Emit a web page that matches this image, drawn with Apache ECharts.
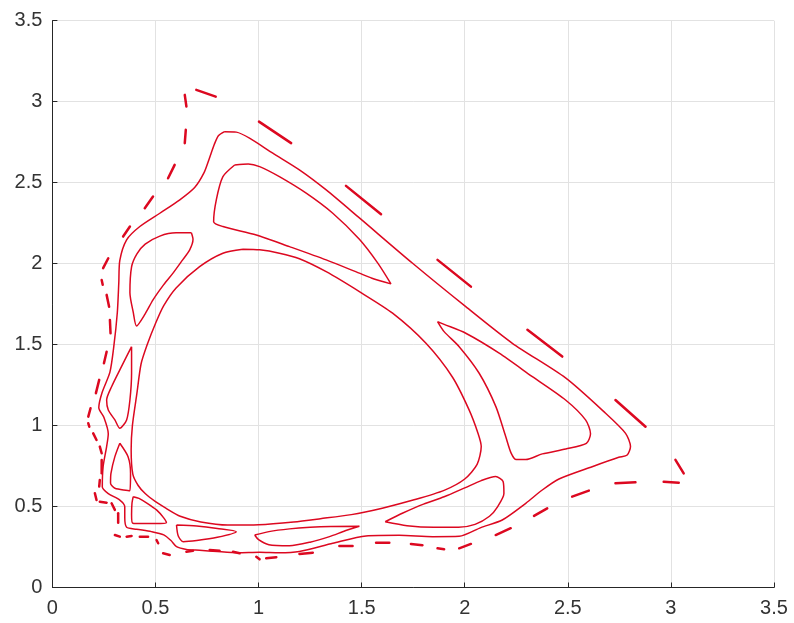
<!DOCTYPE html>
<html>
<head>
<meta charset="utf-8">
<script src="https://cdn.jsdelivr.net/npm/echarts@6/dist/echarts.min.js"></script>
<style>html,body{margin:0;padding:0;background:#fff}#c{width:794px;height:623px}</style>
</head>
<body>
<div id="c"></div>
<script>
// Axis range
const axisMin = 0, axisMax = 3.5, tickStep = 0.5;

// Closed level curves [x, y]
const outerCurve = [[0.835,2.815],[0.892,2.812],[0.956,2.775],[1.069,2.682],[1.198,2.579],[1.328,2.455],[1.489,2.282],[1.747,2.002],[2.005,1.734],[2.231,1.508],[2.489,1.294],[2.683,1.076],[2.780,0.952],[2.804,0.870],[2.788,0.818],[2.747,0.804],[2.618,0.746],[2.457,0.670],[2.376,0.602],[2.296,0.520],[2.182,0.417],[2.078,0.370],[1.973,0.316],[1.844,0.314],[1.682,0.322],[1.521,0.318],[1.360,0.273],[1.198,0.223],[1.100,0.215],[1.005,0.218],[0.900,0.215],[0.800,0.222],[0.714,0.230],[0.650,0.235],[0.602,0.252],[0.575,0.290],[0.540,0.325],[0.480,0.345],[0.408,0.360],[0.360,0.372],[0.351,0.430],[0.351,0.499],[0.327,0.540],[0.271,0.580],[0.242,0.620],[0.246,0.746],[0.263,0.870],[0.271,0.950],[0.250,1.050],[0.225,1.110],[0.240,1.200],[0.279,1.330],[0.298,1.490],[0.315,1.700],[0.322,1.880],[0.327,2.020],[0.360,2.147],[0.424,2.229],[0.521,2.311],[0.618,2.394],[0.690,2.470],[0.735,2.560],[0.760,2.645],[0.785,2.735],[0.805,2.790],[0.835,2.815]];

const innerCurve = [[0.924,2.089],[1.005,2.085],[1.101,2.064],[1.198,2.030],[1.328,1.950],[1.489,1.827],[1.650,1.694],[1.812,1.508],[1.940,1.300],[2.020,1.100],[2.065,0.950],[2.080,0.870],[2.060,0.760],[2.000,0.670],[1.900,0.600],[1.750,0.540],[1.600,0.490],[1.450,0.450],[1.300,0.425],[1.170,0.405],[1.000,0.388],[0.850,0.386],[0.720,0.405],[0.620,0.440],[0.550,0.490],[0.500,0.530],[0.450,0.580],[0.416,0.630],[0.390,0.700],[0.382,0.850],[0.388,1.000],[0.410,1.200],[0.430,1.380],[0.460,1.500],[0.500,1.630],[0.540,1.740],[0.600,1.850],[0.714,1.981],[0.827,2.064],[0.924,2.089]];

const island1 = [[0.884,2.609],[0.950,2.615],[1.005,2.599],[1.101,2.537],[1.231,2.435],[1.360,2.311],[1.489,2.150],[1.580,2.000],[1.642,1.875],[1.550,1.910],[1.489,1.941],[1.328,2.023],[1.150,2.105],[0.989,2.177],[0.827,2.229],[0.782,2.259],[0.795,2.394],[0.827,2.537],[0.884,2.609]];
const island2 = [[0.674,2.190],[0.600,2.190],[0.521,2.170],[0.450,2.120],[0.410,2.060],[0.384,1.980],[0.376,1.820],[0.392,1.700],[0.408,1.615],[0.450,1.690],[0.488,1.776],[0.540,1.870],[0.585,1.941],[0.630,2.020],[0.666,2.085],[0.682,2.150],[0.674,2.190]];
const island3 = [[0.384,1.487],[0.335,1.364],[0.287,1.240],[0.263,1.158],[0.271,1.096],[0.303,1.035],[0.327,0.983],[0.360,1.035],[0.376,1.158],[0.384,1.323],[0.384,1.487]];
const island4 = [[0.327,0.891],[0.303,0.808],[0.284,0.705],[0.282,0.644],[0.303,0.613],[0.376,0.598],[0.379,0.705],[0.367,0.808],[0.327,0.891]];
const island5 = [[0.392,0.561],[0.420,0.550],[0.460,0.520],[0.505,0.479],[0.540,0.430],[0.553,0.400],[0.500,0.395],[0.440,0.395],[0.390,0.397],[0.384,0.450],[0.386,0.520],[0.392,0.561]];
const island6 = [[0.602,0.386],[0.700,0.380],[0.800,0.365],[0.892,0.345],[0.800,0.310],[0.700,0.290],[0.634,0.283],[0.610,0.320],[0.602,0.386]];
const island7 = [[0.981,0.324],[1.050,0.345],[1.150,0.362],[1.250,0.372],[1.350,0.377],[1.489,0.378],[1.420,0.350],[1.344,0.314],[1.250,0.280],[1.150,0.258],[1.050,0.264],[1.000,0.295],[0.981,0.324]];
const island8 = [[1.614,0.406],[1.700,0.460],[1.800,0.515],[1.900,0.560],[2.000,0.615],[2.080,0.660],[2.150,0.685],[2.186,0.655],[2.190,0.580],[2.160,0.500],[2.120,0.440],[2.050,0.390],[1.970,0.372],[1.850,0.372],[1.720,0.382],[1.614,0.406]];
const island9 = [[1.868,1.642],[1.900,1.625],[2.005,1.570],[2.167,1.447],[2.328,1.302],[2.489,1.158],[2.586,1.035],[2.610,0.950],[2.590,0.890],[2.490,0.855],[2.376,0.825],[2.296,0.790],[2.250,0.790],[2.225,0.830],[2.199,0.931],[2.151,1.117],[2.070,1.323],[1.973,1.487],[1.900,1.580],[1.868,1.642]];

// Broken outermost orbit: short pieces [start, end]
const dashPieces = [
 [[0.698,3.073],[0.792,3.031]],[[1.002,2.877],[1.158,2.744]],[[1.424,2.480],[1.594,2.305]],
 [[1.868,2.023],[2.030,1.858]],[[2.304,1.591],[2.473,1.426]],[[2.731,1.158],[2.877,0.993]],
 [[3.022,0.788],[3.062,0.705]],[[2.965,0.653],[3.038,0.647]],[[2.731,0.644],[2.828,0.650]],
 [[2.521,0.561],[2.602,0.598]],[[2.336,0.442],[2.400,0.489]],[[2.150,0.324],[2.223,0.366]],
 [[1.973,0.242],[2.030,0.269]],[[1.868,0.242],[1.900,0.236]],[[1.739,0.269],[1.795,0.261]],
 [[1.570,0.277],[1.634,0.277]],[[1.392,0.256],[1.456,0.256]],[[1.198,0.207],[1.263,0.215]],
 [[1.037,0.180],[1.086,0.187]],[[0.989,0.190],[1.005,0.174]],[[0.876,0.221],[0.908,0.211]],
 [[0.763,0.232],[0.811,0.227]],[[0.650,0.221],[0.682,0.227]],[[0.537,0.211],[0.569,0.201]],
 [[0.505,0.293],[0.513,0.273]],[[0.424,0.314],[0.464,0.314]],[[0.360,0.314],[0.384,0.318]],
 [[0.303,0.324],[0.327,0.314]],[[0.319,0.458],[0.319,0.400]],[[0.287,0.520],[0.303,0.479]],
 [[0.230,0.530],[0.263,0.524]],[[0.206,0.582],[0.214,0.540]],[[0.230,0.664],[0.227,0.623]],
 [[0.239,0.788],[0.239,0.705]],[[0.230,0.870],[0.239,0.829]],[[0.198,0.952],[0.214,0.911]],
 [[0.174,1.014],[0.179,0.993]],[[0.185,1.107],[0.174,1.055]],[[0.227,1.282],[0.211,1.200]],
 [[0.263,1.456],[0.250,1.385]],[[0.279,1.652],[0.282,1.570]],[[0.263,1.807],[0.275,1.734]],
 [[0.239,1.899],[0.244,1.869]],[[0.271,2.033],[0.246,1.972]],[[0.376,2.229],[0.343,2.167]],
 [[0.488,2.414],[0.448,2.342]],[[0.593,2.610],[0.561,2.527]],[[0.647,2.826],[0.642,2.744]],
 [[0.642,3.042],[0.650,2.970]]
];

const RED = '#dc0820';
const closedCurves = [outerCurve, innerCurve, island1, island2, island3, island4, island5, island6, island7, island8, island9];

const series = [];
closedCurves.forEach(c => series.push({
  type: 'line', data: c, showSymbol: false, smooth: 0.25, silent: true,
  lineStyle: { color: RED, width: 1.5 }
}));
dashPieces.forEach(d => series.push({
  type: 'line', data: d, showSymbol: false, silent: true,
  lineStyle: { color: RED, width: 2.5, cap: 'round' }
}));

const axisCommon = {
  type: 'value', min: axisMin, max: axisMax, interval: tickStep,
  axisLine: { show: true, onZero: false, lineStyle: { color: '#262626', width: 1 } },
  axisTick: { show: true, inside: true, length: 5, lineStyle: { color: '#262626' } },
  splitLine: { show: true, lineStyle: { color: '#e2e2e2', width: 1 } }
};

const chart = echarts.init(document.getElementById('c'), null, { renderer: 'canvas' });
chart.setOption({
  animation: false,
  backgroundColor: '#ffffff',
  grid: { left: 52.4, right: 20, top: 20.7, bottom: 35.5 },
  xAxis: Object.assign({}, axisCommon, {
    axisLabel: { fontSize: 20, color: '#333333', margin: 11, fontFamily: 'Liberation Sans, Arial, sans-serif' }
  }),
  yAxis: Object.assign({}, axisCommon, {
    axisLabel: { fontSize: 20, color: '#333333', margin: 10, fontFamily: 'Liberation Sans, Arial, sans-serif' }
  }),
  series: series
});
</script>
</body>
</html>
